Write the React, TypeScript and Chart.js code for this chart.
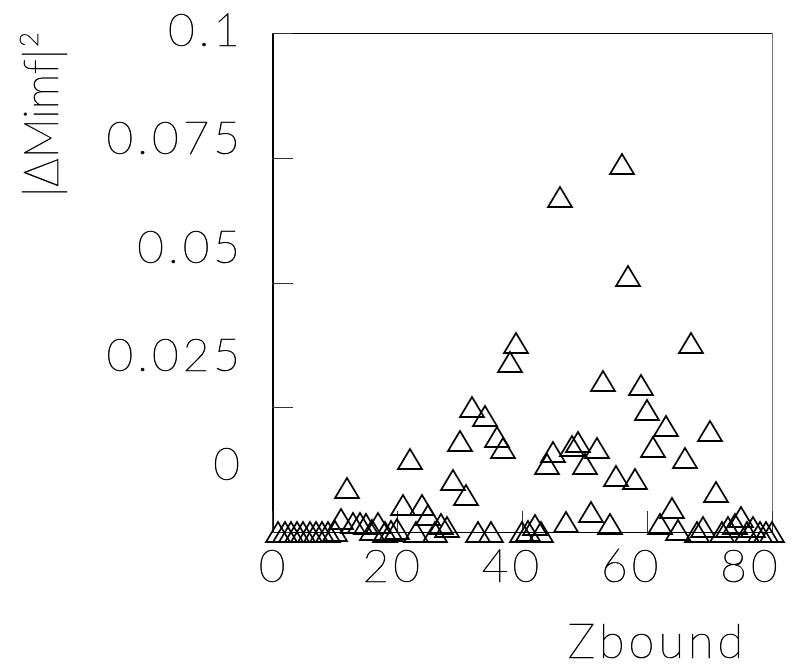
import React, { useEffect, useRef } from 'react';
import { Chart, registerables } from 'chart.js';

Chart.register(...registerables);

// ---- data ----
const zbound = [
  1, 2, 3, 4, 5, 6, 7, 8, 9, 10,
  11, 12, 13, 14, 15, 16, 17, 18, 19, 20,
  21, 22, 23, 24, 25, 26, 27, 28, 29, 30,
  31, 32, 33, 34, 35, 36, 37, 38, 39, 40,
  41, 42, 43, 44, 45, 46, 47, 48, 49, 50,
  51, 52, 53, 54, 55, 56, 57, 58, 59, 60,
  61, 62, 63, 64, 65, 66, 67, 68, 69, 70,
  71, 72, 73, 74, 75, 76, 77, 78, 79, 80,
];
const dMimf2 = [
  0.0001, 0.0001, 0.0001, 0.0001, 0.0001, 0.0001, 0.0001, 0.0001, 0.0001, 0.0002,
  0.0027, 0.0088, 0.0019, 0.0018, 0.0017, 0.0004, 0.0018, 0.0001, 0.0002, 0.0007,
  0.0054, 0.0146, 0.0001, 0.0054, 0.0034, 0.0001, 0.0017, 0.0011, 0.0104, 0.0183,
  0.0074, 0.0251, 0.0001, 0.0232, 0.0001, 0.019, 0.0168, 0.0341, 0.0378, 0.0001,
  0.0003, 0.0014, 0.0001, 0.0136, 0.0161, 0.0671, 0.0021, 0.0172, 0.0181, 0.0136,
  0.0041, 0.0168, 0.0303, 0.0016, 0.0112, 0.0737, 0.0514, 0.0106, 0.0295, 0.0244,
  0.0171, 0.0017, 0.0213, 0.0049, 0.0004, 0.0149, 0.0378, 0.0001, 0.001, 0.0203,
  0.0081, 0.0001, 0.0011, 0.0017, 0.0031, 0.0001, 0.0011, 0.0001, 0.0001, 0.0001,
];
const xTickValues = [0, 20, 40, 60, 80];
const xTickLabels = ['0', '20', '40', '60', '80'];
const yTickValues = [0, 0.025, 0.05, 0.075, 0.1];
const yTickLabels = ['0', '0.025', '0.05', '0.075', '0.1'];
const xTitle = 'Zbound';
const yTitleMain = '|\u0394Mimf|';
const yTitleSup = '2';

const FONT_FAMILY = 'Lato, "DejaVu Sans", sans-serif';
const FONT_WEIGHT = 100;

function makeTriangle(): HTMLCanvasElement {
  const c = document.createElement('canvas');
  c.width = 28;
  c.height = 24;
  const g = c.getContext('2d')!;
  g.strokeStyle = '#000';
  g.lineWidth = 1.8;
  g.beginPath();
  g.moveTo(14, 2);
  g.lineTo(2, 22);
  g.lineTo(26, 22);
  g.closePath();
  g.stroke();
  return c;
}

function thinText(ctx: CanvasRenderingContext2D, s: string, x: number, y: number) {
  ctx.fillText(s, x, y);
  ctx.strokeText(s, x, y);
}

const framePlugin = {
  id: 'pawFrame',
  beforeDatasetsDraw(chart: any) {
    const ctx = chart.ctx as CanvasRenderingContext2D;
    const xs = chart.scales.x;
    const ys = chart.scales.y;
    const { left, right, top, bottom } = chart.chartArea;
    ctx.save();
    // frame
    ctx.strokeStyle = '#000';
    ctx.lineWidth = 1;
    ctx.beginPath();
    ctx.moveTo(left, top + 0.5);
    ctx.lineTo(right, top + 0.5);
    ctx.stroke();
    ctx.beginPath();
    ctx.moveTo(left, bottom + 0.5);
    ctx.lineTo(right, bottom + 0.5);
    ctx.stroke();
    ctx.strokeStyle = '#777';
    ctx.beginPath();
    ctx.moveTo(right + 0.5, top);
    ctx.lineTo(right + 0.5, bottom + 1);
    ctx.stroke();
    ctx.strokeStyle = '#000';
    ctx.lineWidth = 2;
    ctx.beginPath();
    ctx.moveTo(left + 1, top);
    ctx.lineTo(left + 1, bottom + 1);
    ctx.stroke();
    // ticks (inward)
    ctx.lineWidth = 1;
    ctx.strokeStyle = '#333';
    const tl = 21;
    yTickValues.forEach((v) => {
      const py = Math.round(ys.getPixelForValue(v)) + 0.5;
      ctx.beginPath();
      ctx.moveTo(left, py);
      ctx.lineTo(left + tl, py);
      ctx.stroke();
    });
    xTickValues.forEach((v) => {
      const px = Math.round(xs.getPixelForValue(v)) + 0.5;
      ctx.beginPath();
      ctx.moveTo(px, bottom);
      ctx.lineTo(px, bottom - tl);
      ctx.stroke();
    });

    // tick labels
    ctx.fillStyle = '#000';
    ctx.strokeStyle = '#000';
    ctx.lineWidth = 0.7;
    ctx.lineJoin = 'round';
    ctx.font = `${FONT_WEIGHT} 46px ${FONT_FAMILY}`;
    (ctx as any).letterSpacing = '4px';
    ctx.textBaseline = 'alphabetic';
    ctx.textAlign = 'center';
    xTickValues.forEach((v, i) => {
      const px = xs.getPixelForValue(v);
      const cx = left + (px - left) * 0.954;
      thinText(ctx, xTickLabels[i], cx + 2, bottom + 50);
    });
    ctx.textAlign = 'right';
    yTickValues.forEach((v, i) => {
      const py = ys.getPixelForValue(v);
      const cy = bottom - 69 - (bottom - py) * 0.8697;
      thinText(ctx, yTickLabels[i], left - 32 + 4, cy + 16.5);
    });

    // x title
    ctx.font = `${FONT_WEIGHT} 47px ${FONT_FAMILY}`;
    ctx.textAlign = 'right';
    thinText(ctx, xTitle, right - 29 + 4, bottom + 126);

    // y title (rotated)
    ctx.save();
    ctx.translate(left - 214, top + 164);
    ctx.rotate(-Math.PI / 2);
    ctx.textAlign = 'left';
    (ctx as any).letterSpacing = '0px';
    ctx.font = `${FONT_WEIGHT} 48px ${FONT_FAMILY}`;
    const w = ctx.measureText(yTitleMain).width;
    const target = 148;
    ctx.save();
    ctx.scale(target / w, 1);
    thinText(ctx, yTitleMain, 0, 0);
    ctx.restore();
    ctx.font = `${FONT_WEIGHT} 26px ${FONT_FAMILY}`;
    thinText(ctx, yTitleSup, target + 2, -20);
    ctx.restore();

    ctx.restore();
    ctx.save();
    ctx.imageSmoothingEnabled = false;
  },
  afterDatasetsDraw(chart: any) {
    chart.ctx.restore();
  },
};

export default function App() {
  const ref = useRef<HTMLCanvasElement | null>(null);
  useEffect(() => {
    if (!ref.current) return;
    const tri = makeTriangle();
    const points = zbound.map((z, i) => ({ x: z, y: dMimf2[i] }));
    const chart = new Chart(ref.current, {
      type: 'scatter',
      data: {
        datasets: [
          {
            data: points,
            pointStyle: tri as any,
            pointRadius: 3,
            pointHoverRadius: 3,
            borderColor: '#000',
            backgroundColor: 'transparent',
            clip: false as any,
          },
        ],
      },
      options: {
        responsive: false,
        animation: false,
        devicePixelRatio: 1,
        events: [],
        layout: { padding: { left: 272, right: 35, top: 33, bottom: 132 } },
        plugins: { legend: { display: false }, tooltip: { enabled: false } },
        scales: {
          x: { type: 'linear', min: 0, max: 80, display: false },
          y: { type: 'linear', min: 0, max: 0.1, display: false },
        },
      },
      plugins: [framePlugin],
    });
    return () => chart.destroy();
  }, []);
  return (
    <div style={{ position: 'absolute', left: 0, top: 0, width: 807, height: 664, background: '#fff' }}>
      <canvas ref={ref} width={807} height={664} />
    </div>
  );
}
